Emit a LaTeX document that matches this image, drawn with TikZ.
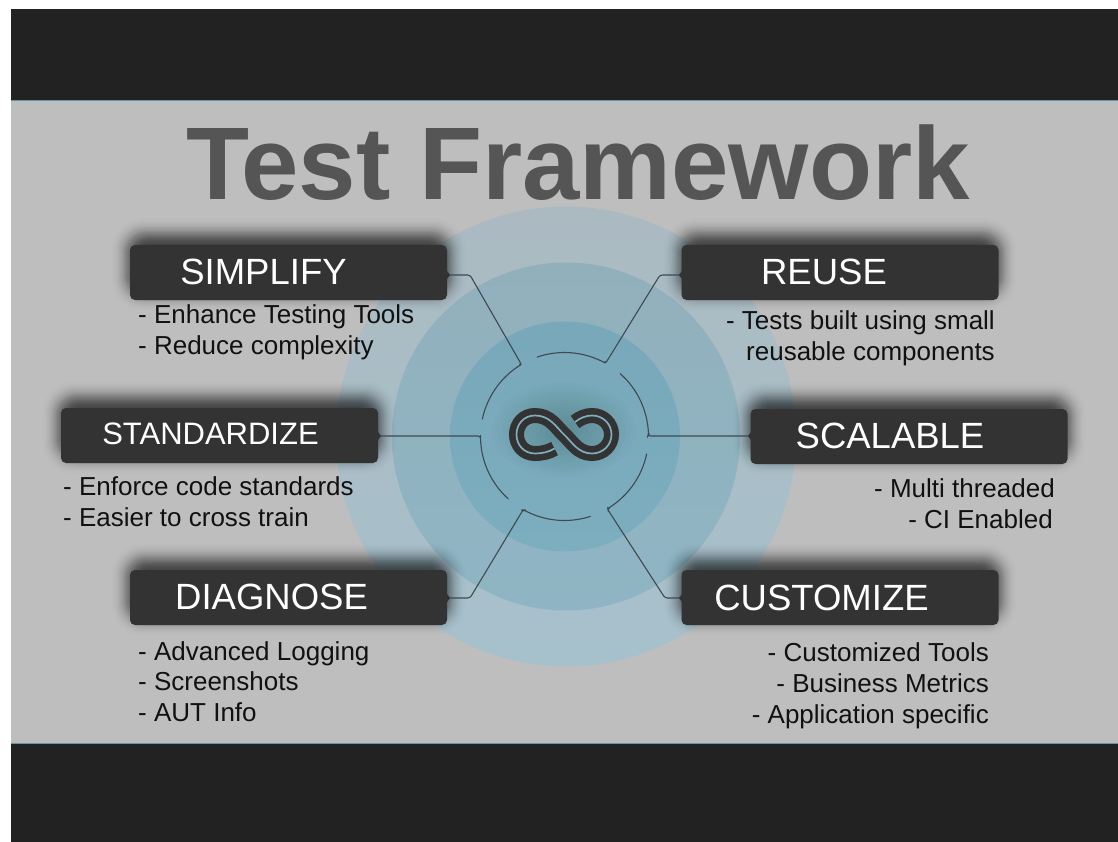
\documentclass[tikz,border=0pt]{standalone}
\usepackage{fontspec}
\setmainfont{Liberation Sans}
\definecolor{band}{HTML}{222222}
\definecolor{panel}{HTML}{BEBEBE}
\definecolor{rule}{HTML}{6A94AE}
\definecolor{boxfill}{HTML}{333333}
\definecolor{wire}{HTML}{3F4A50}
\definecolor{titlec}{HTML}{555555}
\definecolor{bodyc}{HTML}{111111}
\definecolor{ringgap}{HTML}{7FAEBF}
\definecolor{ringAt}{HTML}{ABBAC1}
\definecolor{ringAb}{HTML}{A7C1CC}
\definecolor{ringBt}{HTML}{92B0BC}
\definecolor{ringBb}{HTML}{8FB5C4}
\definecolor{ringCt}{HTML}{78A8BA}
\definecolor{ringCb}{HTML}{7CAEC0}
\newcommand{\halo}[4]{%
  \foreach \e in {-20,-19,...,20}{
    \pgfmathsetmacro{\aa}{0.052*exp(-(\e/11)*(\e/11))}
    \pgfmathsetmacro{\rr}{4+0.7*(\e+20)}
    \fill[black,opacity=\aa,rounded corners=\rr pt]
      ({#1-\e},{#2-8-\e}) rectangle ({#3+\e},{#4-8+\e});
  }}
\def\hx{564.5+84*cos(\x)}
\def\hy{436.5-84*sin(\x)}
\tikzset{
  cardbox/.style={fill=boxfill,text=white,rounded corners=5pt,minimum width=317pt,minimum height=55pt,inner sep=0pt,
    text height=26pt,text depth=3pt,anchor=center,font=\fontsize{36.5}{36.5}\selectfont},
  wirepath/.style={draw=wire,line width=1.1pt,line join=round,line cap=round,rounded corners=2.5pt},
  hub/.style={samples=24},
  bodyl/.style={inner sep=0pt,anchor=base west,text=bodyc,font=\fontsize{26}{26}\selectfont},
  bodyr/.style={inner sep=0pt,anchor=base east,text=bodyc,font=\fontsize{26}{26}\selectfont},
  bump/.style={fill=boxfill}
}
\begin{document}
\begin{tikzpicture}[x=1pt,y=-1pt]
\useasboundingbox (0,0) rectangle (1118,842);
\fill[white] (0,0) rectangle (1118,842);
\fill[panel] (11,100) rectangle (1118,744);
\fill[band] (11,9) rectangle (1118,100);
\fill[band] (11,744) rectangle (1118,842);
\draw[rule,line width=1pt] (11,100.5) -- (1118,100.5);
\draw[rule,line width=1pt] (11,743.5) -- (1118,743.5);
% rings
\shade[top color=ringAt,bottom color=ringAb] (566,436.5) circle (230);
\shade[top color=ringBt,bottom color=ringBb] (566,436.5) circle (174);
\shade[top color=ringCt,bottom color=ringCb] (565,436.5) circle (115);
% glow behind the logo
\foreach \r in {8,12,...,60}{
  \fill[black,opacity=0.012] (564,430) ellipse ({\r*1.2} and {\r*0.8});
}
% title
\node[inner sep=0pt,anchor=base,text=titlec,font=\fontsize{103.2}{104}\bfseries] (title) at (578,200) {Test Framework};
% card shadows
\halo{130}{245}{447}{300}
\halo{61}{408}{378}{463}
\halo{130}{570}{447}{625}
\halo{682}{245}{998}{300}
\halo{751}{409}{1067}{464}
\halo{682}{570}{998}{625}
% cards
\node[cardbox] (simplify) at (288.5,272.5) {SIMPLIFY\hspace*{50pt}};
\node[cardbox,font=\fontsize{31}{31}\selectfont,text height=22pt,text depth=5pt] (standardize) at (219.5,435.5) {STANDARDIZE\hspace*{18pt}};
\node[cardbox] (diagnose) at (288.5,597.5) {DIAGNOSE\hspace*{34pt}};
\node[cardbox] (reuse) at (840,272.5) {REUSE\hspace*{32pt}};
\node[cardbox] (scalable) at (909,436.5) {SCALABLE\hspace*{38pt}};
\node[cardbox,text depth=1pt] (customize) at (840,597.5) {CUSTOMIZE\hspace*{37pt}};
% connector bends
\coordinate (k1) at (470,275);
\coordinate (h1) at (520,362);
\coordinate (k2) at (660,275);
\coordinate (h2) at (607,361);
\coordinate (h3) at (648,436);
\coordinate (h4) at (480.5,436);
\coordinate (k5) at (470,598);
\coordinate (h5) at (523,510);
\coordinate (k6) at (665,598);
\coordinate (h6) at (608,510);
% connectors
\draw[wirepath] (simplify.east |- k1) -- (k1) -- (h1) -- plot[hub,domain=121:168] ({\hx},{\hy});
\draw[wirepath] (reuse.west |- k2) -- (k2) -- (h2) -- plot[hub,domain=61:109] ({\hx},{\hy});
\draw[wirepath] (scalable.west |- h3) -- (h3) -- plot[hub,domain=1:48.5] ({\hx},{\hy});
\draw[wirepath] (standardize.east |- h4) -- (h4) -- plot[hub,domain=181:228] ({\hx},{\hy});
\draw[wirepath] (diagnose.east |- k5) -- (k5) -- (h5) -- plot[hub,domain=241:288] ({\hx},{\hy});
\draw[wirepath] (customize.west |- k6) -- (k6) -- (h6) -- plot[hub,domain=-59:-12] ({\hx},{\hy});
% small bumps where connectors leave the cards
\fill[bump] (447,271) -- (450,275) -- (447,279) -- cycle;
\fill[bump] (682,271) -- (679,275) -- (682,279) -- cycle;
\fill[bump] (751,432) -- (748,436) -- (751,440) -- cycle;
\fill[bump] (378,432) -- (381,436) -- (378,440) -- cycle;
\fill[bump] (447,594) -- (450,598) -- (447,602) -- cycle;
\fill[bump] (682,594) -- (679,598) -- (682,602) -- cycle;
% infinity logo
\def\infpath{(554.5,448.5) .. controls (549,452) and (542,453.5) .. (535,453.5) .. controls (524,453.5) and (516.5,445) .. (516.5,434.5) .. controls (516.5,424) and (524,415.5) .. (535,415.5) .. controls (550,415.5) and (556,427) .. (564,434.5) .. controls (572,442) and (578,453.5) .. (592,453.5) .. controls (603,453.5) and (611.5,445) .. (611.5,434.5) .. controls (611.5,424) and (603,415.5) .. (592,415.5) .. controls (586,415.5) and (580,418) .. (575,422)}
\draw[boxfill,line width=15pt] \infpath;
\draw[ringgap,line width=1.7pt] \infpath;
% body text
\node[bodyl] (t1) at (138,323) {- Enhance Testing Tools};
\node[bodyl] (t2) at (138,354) {- Reduce complexity};
\node[bodyl] (t3) at (63,495) {- Enforce code standards};
\node[bodyl] (t4) at (63,526) {- Easier to cross train};
\node[bodyl] (t5) at (138,660) {- Advanced Logging};
\node[bodyl] (t6) at (138,690) {- Screenshots};
\node[bodyl] (t7) at (138,721) {- AUT Info};
\node[bodyr] (t8) at (995,329) {- Tests built using small};
\node[bodyr] (t9) at (995,360) {reusable components};
\node[bodyr] (t10) at (1055,497) {- Multi threaded};
\node[bodyr] (t11) at (1053,528) {- CI Enabled};
\node[bodyr] (t12) at (989,661) {- Customized Tools};
\node[bodyr] (t13) at (989,692) {- Business Metrics};
\node[bodyr] (t14) at (989,723) {- Application specific};
\end{tikzpicture}
\end{document}
